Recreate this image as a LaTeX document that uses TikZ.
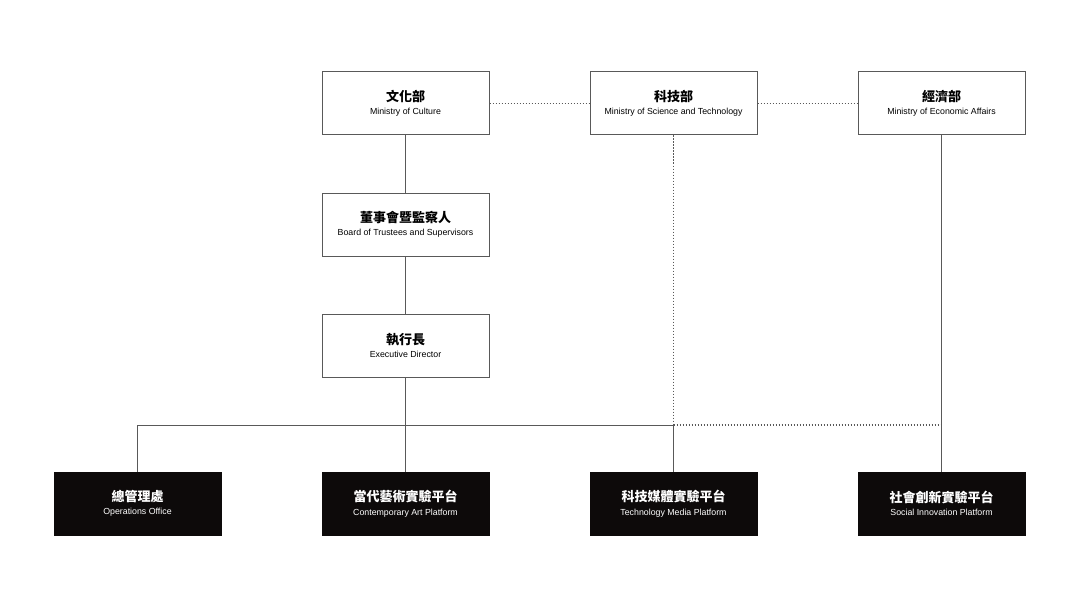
\documentclass[tikz,border=0pt]{standalone}
\usepackage{fontspec}
\setmainfont{Liberation Sans}
\newfontfamily\cjk{Noto Sans CJK TC}
\newlength{\du}
\setlength{\du}{1pt}
\definecolor{dialinecolor}{rgb}{0.350000, 0.350000, 0.350000}
\definecolor{boxfill}{rgb}{0.050000, 0.040000, 0.040000}
\tikzset{
  orgbox/.style={draw=dialinecolor, line width=1\du, fill=white, minimum width=167\du,
    minimum height=63\du, inner sep=0pt, align=center},
  unitbox/.style={orgbox, draw=boxfill, fill=boxfill, text=white},
  link/.style={draw=dialinecolor, line width=1\du},
  dots/.style={link, line width=1.2\du, dash pattern=on 1.5\du off 1.5\du},
}
\newcommand{\orglabel}[2]{{\cjk\bfseries\fontsize{13}{14}\selectfont #1}\\[1.5\du]{\fontsize{8.8}{9}\selectfont #2}}
\begin{document}
\begin{tikzpicture}[x=\du, y=-\du]
\useasboundingbox (0,0) rectangle (1079,607);
% ministries
\node[orgbox] (culture) at (405.5,103.5) {\orglabel{文化部}{Ministry of Culture}};
\node[orgbox] (science) at (673.5,103.5) {\orglabel{科技部}{Ministry of Science and Technology}};
\node[orgbox] (economy) at (941.5,103.5) {\orglabel{經濟部}{Ministry of Economic Affairs}};
% board and director
\node[orgbox] (board) at (405.5,224.5) {\orglabel{董事會暨監察人}{Board of Trustees and Supervisors}};
\node[orgbox] (exec) at (405.5,345.5) {\orglabel{執行長}{Executive Director}};
% units
\node[unitbox] (ops) at (137.5,503.5) {\orglabel{總管理處}{Operations Office}};
\node[unitbox] (arts) at (405.5,503.5) {\orglabel{當代藝術實驗平台}{Contemporary Art Platform}};
\node[unitbox] (tech) at (673.5,503.5) {\orglabel{科技媒體實驗平台}{Technology Media Platform}};
\node[unitbox] (social) at (941.5,503.5) {\orglabel{社會創新實驗平台}{Social Innovation Platform}};
\coordinate (busL) at (ops.north |- 0,425);
\coordinate (busM) at (tech.north |- 0,425);
\coordinate (busR) at (social.north |- 0,425);
\draw[dots] (culture) -- (science);
\draw[dots] (science) -- (economy);
\draw[link] (culture) -- (board);
\draw[link] (board) -- (exec);
\draw[link] (exec) -- (arts);
\draw[link] (ops.north) -- (busL) -- (busM) -- (tech.north);
\draw[dots] (science.south) -- (busM);
\draw[dots] (busM) -- (busR);
\draw[link] (economy.south) -- (social.north);
\end{tikzpicture}
\end{document}
